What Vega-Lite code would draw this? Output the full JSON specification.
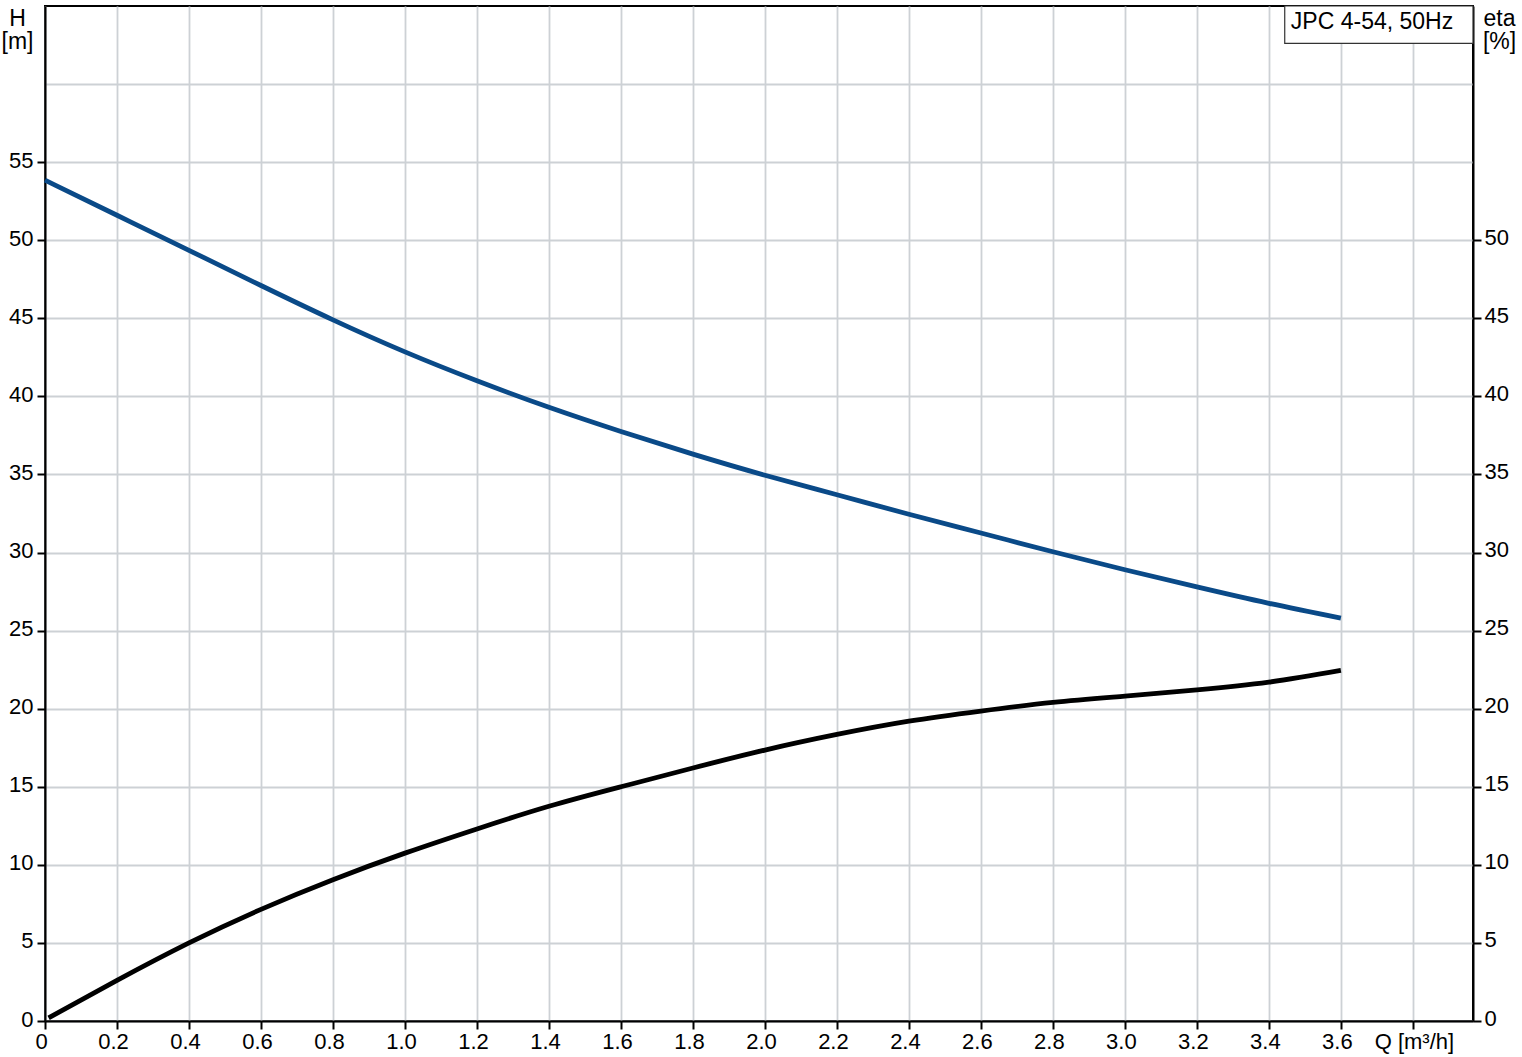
{
  "$schema": "https://vega.github.io/schema/vega-lite/v6.json",
  "width": 1428,
  "height": 1015,
  "autosize": "none",
  "padding": {"left": 45, "top": 6, "right": 49, "bottom": 36},
  "background": "white",
  "config": {
    "view": {"stroke": "black", "strokeWidth": 2},
    "font": "Liberation Sans",
    "axis": {"labelFont": "Liberation Sans", "titleFont": "Liberation Sans"}
  },
  "datasets": {
    "head": [
      {"Q": 0.0, "H": 53.85},
      {"Q": 0.2, "H": 51.6},
      {"Q": 0.4, "H": 49.35},
      {"Q": 0.6, "H": 47.1},
      {"Q": 0.8, "H": 44.9},
      {"Q": 1.0, "H": 42.85},
      {"Q": 1.2, "H": 41.0},
      {"Q": 1.4, "H": 39.3},
      {"Q": 1.6, "H": 37.75},
      {"Q": 1.8, "H": 36.3},
      {"Q": 2.0, "H": 34.95},
      {"Q": 2.2, "H": 33.7},
      {"Q": 2.4, "H": 32.45},
      {"Q": 2.6, "H": 31.25},
      {"Q": 2.8, "H": 30.05},
      {"Q": 3.0, "H": 28.9},
      {"Q": 3.2, "H": 27.8},
      {"Q": 3.4, "H": 26.75},
      {"Q": 3.6, "H": 25.8}
    ],
    "efficiency": [
      {"Q": 0.01, "eta": 0.2},
      {"Q": 0.2, "eta": 2.6},
      {"Q": 0.4, "eta": 5.0},
      {"Q": 0.6, "eta": 7.15},
      {"Q": 0.8, "eta": 9.05},
      {"Q": 1.0, "eta": 10.75},
      {"Q": 1.2, "eta": 12.3},
      {"Q": 1.4, "eta": 13.75},
      {"Q": 1.6, "eta": 15.0},
      {"Q": 1.8, "eta": 16.2},
      {"Q": 2.0, "eta": 17.35},
      {"Q": 2.2, "eta": 18.35},
      {"Q": 2.4, "eta": 19.2},
      {"Q": 2.6, "eta": 19.85},
      {"Q": 2.8, "eta": 20.4},
      {"Q": 3.0, "eta": 20.8},
      {"Q": 3.2, "eta": 21.2},
      {"Q": 3.4, "eta": 21.7},
      {"Q": 3.6, "eta": 22.45}
    ],
    "legendbox": [{"label": "JPC 4-54, 50Hz"}]
  },
  "layer": [
    {
      "data": {"name": "head"},
      "mark": {"type": "line", "color": "#0a4a88", "strokeWidth": 4.8, "interpolate": "natural", "strokeCap": "butt"},
      "encoding": {
        "x": {
          "field": "Q", "type": "quantitative",
          "scale": {"domain": [0, 3.967], "nice": false, "zero": false},
          "axis": {
            "orient": "bottom",
            "values": [0, 0.2, 0.4, 0.6, 0.8, 1.0, 1.2, 1.4, 1.6, 1.8, 2.0, 2.2, 2.4, 2.6, 2.8, 3.0, 3.2, 3.4, 3.6, 3.8],
            "labelExpr": "datum.value > 3.75 ? 'Q [m³/h]' : (datum.value == 0 ? '0' : format(datum.value, '.1f'))",
            "grid": true,
            "gridColor": "#cdd1d5",
            "gridWidth": 1.8,
            "domainColor": "black",
            "domainWidth": 2,
            "tickColor": "black",
            "tickWidth": 2,
            "tickSize": 8,
            "labelFontSize": 22,
            "labelColor": "black",
            "labelPadding": 2,
            "labelOverlap": false,
            "labelFlush": false,
            "labelOffset": {"condition": {"test": "datum.value > 3.75", "value": 1}, "value": -4},
            "title": null
          }
        },
        "y": {
          "field": "H", "type": "quantitative",
          "scale": {"domain": [0, 65], "nice": false, "zero": true},
          "axis": {
            "orient": "left",
            "values": [0, 5, 10, 15, 20, 25, 30, 35, 40, 45, 50, 55, 60],
            "labelExpr": "datum.value == 60 ? '' : datum.label",
            "grid": true,
            "gridColor": "#cdd1d5",
            "gridWidth": 1.8,
            "domainColor": "black",
            "domainWidth": 2,
            "tickColor": {"condition": {"test": "datum.value == 60", "value": "transparent"}, "value": "black"},
            "tickWidth": 2,
            "tickSize": 8,
            "labelFontSize": 22,
            "labelColor": "black",
            "labelPadding": 4,
            "labelOffset": -2,
            "labelOverlap": false,
            "labelFlush": false,
            "title": ["H", "[m]"],
            "titleAngle": 0,
            "titleX": -28,
            "titleY": 19,
            "titleAlign": "center",
            "titleBaseline": "alphabetic",
            "titleFontSize": 23,
            "titleFontWeight": "normal",
            "titleColor": "black",
            "titleLineHeight": 23
          }
        }
      }
    },
    {
      "data": {"name": "efficiency"},
      "mark": {"type": "line", "color": "black", "strokeWidth": 4.8, "interpolate": "natural", "strokeCap": "butt"},
      "encoding": {
        "x": {"field": "Q", "type": "quantitative"},
        "y": {
          "field": "eta", "type": "quantitative",
          "scale": {"domain": [0, 65], "nice": false, "zero": true},
          "axis": {
            "orient": "right",
            "values": [0, 5, 10, 15, 20, 25, 30, 35, 40, 45, 50],
            "grid": false,
            "domainColor": "black",
            "domainWidth": 2,
            "tickColor": "black",
            "tickWidth": 2,
            "tickSize": 8,
            "labelFontSize": 22,
            "labelColor": "black",
            "labelPadding": 3,
            "labelOffset": -3,
            "labelOverlap": false,
            "labelFlush": false,
            "title": ["eta", "[%]"],
            "titleAngle": 0,
            "titleX": 26,
            "titleY": 19,
            "titleAlign": "center",
            "titleBaseline": "alphabetic",
            "titleFontSize": 23,
            "titleFontWeight": "normal",
            "titleColor": "black",
            "titleLineHeight": 23
          }
        }
      }
    },
    {
      "data": {"name": "legendbox"},
      "mark": {"type": "rect", "fill": "white", "stroke": "#333333", "strokeWidth": 1.2},
      "encoding": {
        "x": {"datum": 3.444, "type": "quantitative"},
        "x2": {"datum": 3.967},
        "y": {"datum": 62.61, "type": "quantitative", "scale": {"domain": [0, 65], "nice": false}, "axis": null},
        "y2": {"datum": 65}
      }
    },
    {
      "data": {"name": "legendbox"},
      "mark": {"type": "text", "align": "left", "baseline": "alphabetic", "fontSize": 23, "color": "black", "font": "Liberation Sans"},
      "encoding": {
        "x": {"datum": 3.461, "type": "quantitative"},
        "y": {"datum": 63.53, "type": "quantitative", "scale": {"domain": [0, 65], "nice": false}, "axis": null},
        "text": {"field": "label"}
      }
    }
  ],
  "resolve": {"scale": {"y": "independent"}}
}
